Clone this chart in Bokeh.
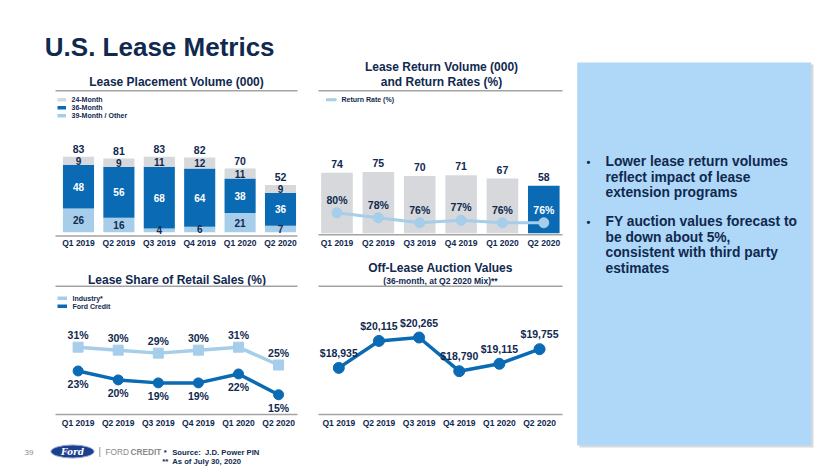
import numpy as np
from bokeh.plotting import figure
from bokeh.models import Range1d
from bokeh.core.properties import value
from bokeh.embed import file_html
from bokeh.resources import INLINE

# ---------------- data ----------------
quarters = ["Q1 2019", "Q2 2019", "Q3 2019", "Q4 2019", "Q1 2020", "Q2 2020"]
placement_24 = [9, 9, 11, 12, 11, 9]
placement_36 = [48, 56, 68, 64, 38, 36]
placement_39 = [26, 16, 4, 6, 21, 7]
placement_total = [83, 81, 83, 82, 70, 52]
return_volume = [74, 75, 70, 71, 67, 58]
return_rate = [80, 78, 76, 77, 76, 76]
industry_share = [31, 30, 29, 30, 31, 25]
ford_share = [23, 20, 19, 19, 22, 15]
auction_values = [18935, 20115, 20265, 18790, 19115, 19755]

bullet_1 = ["Lower lease return volumes", "reflect impact of lease", "extension programs"]
bullet_2 = ["FY auction values forecast to", "be down about 5%,", "consistent with third party", "estimates"]

# ---------------- styles ----------------
W, H = 830, 467
NAVY = "#10294f"
BLUE = "#0a6ab3"
LIGHT = "#a6cdea"
GRAY = "#d6d8db"
RULE = "#a3a3a3"
PANEL = "#afd7f7"
FONT = value("Liberation Sans")

p = figure(width=W, height=H, x_range=Range1d(0, W), y_range=Range1d(H, 0),
           output_backend="svg", toolbar_location=None,
           x_axis_location=None, y_axis_location=None, min_border=0,
           outline_line_color=None, background_fill_color="white",
           border_fill_color="white")
p.grid.grid_line_color = None


def xr(c0, step):
    return Range1d(start=-c0 / step, end=(W - c0) / step)


def yr(v0, px0, ppu):
    return Range1d(start=v0 - (H - px0) / ppu, end=v0 + px0 / ppu)


p.extra_x_ranges = {"c1x": xr(78.0, 40.4), "c2x": xr(336.5, 41.36),
                    "c3x": xr(77.6, 40.1), "c4x": xr(338.3, 40.15)}
p.extra_y_ranges = {"c1y": yr(0, 231.7, 0.91), "c2y": yr(0, 232.7, 0.816),
                    "c2r": yr(80, 212.3, 2.5), "c3y": yr(0, 438.9, 2.975),
                    "c4y": yr(20265, 337.0, 0.02285)}

idx = list(range(len(quarters)))


def txt(x, y, text, size, color=NAVY, align="center", baseline="middle",
        style="bold", xr_name="default", yr_name="default", yoff=0, font=FONT):
    p.text(x=x, y=y, text=text, text_font=font, text_font_size=size,
           text_font_style=style, text_color=color, text_align=align,
           text_baseline=baseline, y_offset=yoff,
           x_range_name=xr_name, y_range_name=yr_name)


# ---------------- slide title ----------------
txt([44.3], [46.7], ["U.S. Lease Metrics"], "26px", align="left", baseline="alphabetic")

# ---------------- chart 1: lease placement volume ----------------
txt([176], [81.7], ["Lease Placement Volume (000)"], "12px")
p.segment(x0=[55], x1=[297], y0=[90.3], y1=[90.3], line_color=RULE, line_width=1.5)
leg1 = ["24-Month", "36-Month", "39-Month / Other"]
leg1_col = [GRAY, BLUE, LIGHT]
leg1_y = [99.3, 107.3, 115.3]
p.quad(left=[57] * 3, right=[65.5] * 3, top=[y - 1.8 for y in leg1_y],
       bottom=[y + 1.8 for y in leg1_y], fill_color=leg1_col, line_color=None)
txt([71] * 3, leg1_y, leg1, "7px", align="left")

b39 = np.zeros(len(idx))
t39 = b39 + np.array(placement_39)
t36 = t39 + np.array(placement_36)
t24 = t36 + np.array(placement_24)
for bot, top, col in [(b39, t39, LIGHT), (t39, t36, BLUE), (t36, t24, GRAY)]:
    p.vbar(x=idx, bottom=bot, top=top, width=0.77, fill_color=col, line_color=None,
           x_range_name="c1x", y_range_name="c1y")
for bot, top, vals, col in [(b39, t39, placement_39, NAVY), (t39, t36, placement_36, "white"),
                            (t36, t24, placement_24, NAVY)]:
    txt(idx, list((bot + top) / 2), [str(v) for v in vals], "10px", color=col,
        xr_name="c1x", yr_name="c1y")
txt(idx, placement_total, [str(v) for v in placement_total], "10.5px",
    xr_name="c1x", yr_name="c1y", yoff=-7.5)
p.segment(x0=[55], x1=[297], y0=[235.5], y1=[235.5], line_color=RULE, line_width=1.5)
txt(idx, [242.5] * len(idx), quarters, "8.5px", xr_name="c1x")

# ---------------- chart 2: lease return volume & rates ----------------
txt([441], [66.7], ["Lease Return Volume (000)"], "12px")
txt([441], [81.7], ["and Return Rates (%)"], "12px")
p.segment(x0=[318], x1=[562], y0=[90.3], y1=[90.3], line_color=RULE, line_width=1.5)
p.segment(x0=[325.5], x1=[336], y0=[99.3], y1=[99.3], line_color=LIGHT, line_width=3)
txt([341], [99.3], ["Return Rate (%)"], "7px", align="left")

bar2_col = [BLUE if i == len(idx) - 1 else GRAY for i in idx]
lab2_col = ["white" if i == len(idx) - 1 else NAVY for i in idx]
p.vbar(x=idx, bottom=0, top=return_volume, width=0.764, fill_color=bar2_col,
       line_color=None, x_range_name="c2x", y_range_name="c2y")
txt(idx, return_volume, [str(v) for v in return_volume], "10.5px",
    xr_name="c2x", yr_name="c2y", yoff=-9)
p.line(x=idx, y=return_rate, line_color=LIGHT, line_width=3,
       x_range_name="c2x", y_range_name="c2r")
p.scatter(x=idx, y=return_rate, size=10, fill_color=LIGHT, line_color=LIGHT,
          x_range_name="c2x", y_range_name="c2r")
txt(idx, return_rate, [f"{v}%" for v in return_rate], "10.5px", color=lab2_col,
    xr_name="c2x", yr_name="c2r", yoff=-13)
p.segment(x0=[318], x1=[562], y0=[234.3], y1=[234.3], line_color=RULE, line_width=1.5)
txt(idx, [242] * len(idx), quarters, "8.5px", xr_name="c2x")

# ---------------- chart 3: lease share of retail sales ----------------
txt([176.5], [279], ["Lease Share of Retail Sales (%)"], "12px")
p.segment(x0=[55], x1=[297], y0=[285.8], y1=[285.8], line_color=RULE, line_width=1.5)
leg3 = ["Industry*", "Ford Credit"]
leg3_y = [297.7, 305.7]
p.quad(left=[57] * 2, right=[66.5] * 2, top=[y - 1.8 for y in leg3_y],
       bottom=[y + 1.8 for y in leg3_y], fill_color=[LIGHT, BLUE], line_color=None)
txt([72] * 2, leg3_y, leg3, "7px", align="left")

p.line(x=idx, y=industry_share, line_color=LIGHT, line_width=3.5,
       x_range_name="c3x", y_range_name="c3y")
p.scatter(x=idx, y=industry_share, marker="square", size=10, fill_color=LIGHT,
          line_color=LIGHT, x_range_name="c3x", y_range_name="c3y")
p.line(x=idx, y=ford_share, line_color=BLUE, line_width=3.5,
       x_range_name="c3x", y_range_name="c3y")
p.scatter(x=idx, y=ford_share, size=10, fill_color=BLUE, line_color=BLUE,
          x_range_name="c3x", y_range_name="c3y")
txt(idx, industry_share, [f"{v}%" for v in industry_share], "10.5px",
    xr_name="c3x", yr_name="c3y", yoff=-12.5)
txt(idx, ford_share, [f"{v}%" for v in ford_share], "10.5px",
    xr_name="c3x", yr_name="c3y", yoff=13.5)
p.segment(x0=[55], x1=[297], y0=[414], y1=[414], line_color=RULE, line_width=1.5)
txt(idx, [422.3] * len(idx), quarters, "8.5px", xr_name="c3x")

# ---------------- chart 4: off-lease auction values ----------------
txt([440], [267.3], ["Off-Lease Auction Values"], "12px")
txt([440], [280.5], ["(36-month, at Q2 2020 Mix)**"], "8.5px")
p.segment(x0=[318], x1=[562], y0=[285.8], y1=[285.8], line_color=RULE, line_width=1.5)
p.line(x=idx, y=auction_values, line_color=BLUE, line_width=3.5,
       x_range_name="c4x", y_range_name="c4y")
p.scatter(x=idx, y=auction_values, size=11, fill_color=BLUE, line_color=BLUE,
          x_range_name="c4x", y_range_name="c4y")
txt(idx, auction_values, [f"${v:,}" for v in auction_values], "10.5px",
    xr_name="c4x", yr_name="c4y", yoff=-15)
p.segment(x0=[318], x1=[562], y0=[414], y1=[414], line_color=RULE, line_width=1.5)
txt(idx, [422] * len(idx), quarters, "8.5px", xr_name="c4x")

# ---------------- text panel ----------------
p.quad(left=[579], right=[813], top=[64], bottom=[447], fill_color="#c4c9cf",
       line_color=None, fill_alpha=0.7)
p.quad(left=[576.7], right=[810.7], top=[62], bottom=[445], fill_color=PANEL,
       line_color=None)
sp = 15.5
y1 = [161 + i * sp for i in range(len(bullet_1))]
y2 = [y1[-1] + 29 + i * sp for i in range(len(bullet_2))]
txt([588, 588], [y1[0], y2[0]], ["•", "•"], "11px", align="center")
txt([605] * len(bullet_1), y1, bullet_1, "13.8px", align="left")
txt([605] * len(bullet_2), y2, bullet_2, "13.8px", align="left")

# ---------------- footer ----------------
txt([28.5], [451.7], ["39"], "8px", color="#8c8c8c", style="normal")
p.ellipse(x=[72], y=[451], width=43, height=13, fill_color="#1d3f8f",
          line_color="#8fa6cf", line_width=1)
txt([72], [451.3], ["Ford"], "9px", color="white", style="bold italic",
    font=value("DejaVu Serif"))
p.segment(x0=[99.3], x1=[99.3], y0=[446.5], y1=[456.5], line_color="#9a9a9a", line_width=1)
txt([105], [451.7], ["FORD"], "8.3px", color="#8a8a8a", style="normal", align="left")
txt([130], [451.7], ["CREDIT"], "8.3px", color="#8a8a8a", style="bold", align="left")
txt([163.3, 171.7], [451.7, 451.7], ["*", "Source:\u00a0 J.D. Power PIN"], "7.7px", align="left")
txt([161.7, 171.7], [460.5, 460.5], ["**", "As of July 30, 2020"], "7.7px", align="left")

open("out.html", "w").write(file_html(p, INLINE))
